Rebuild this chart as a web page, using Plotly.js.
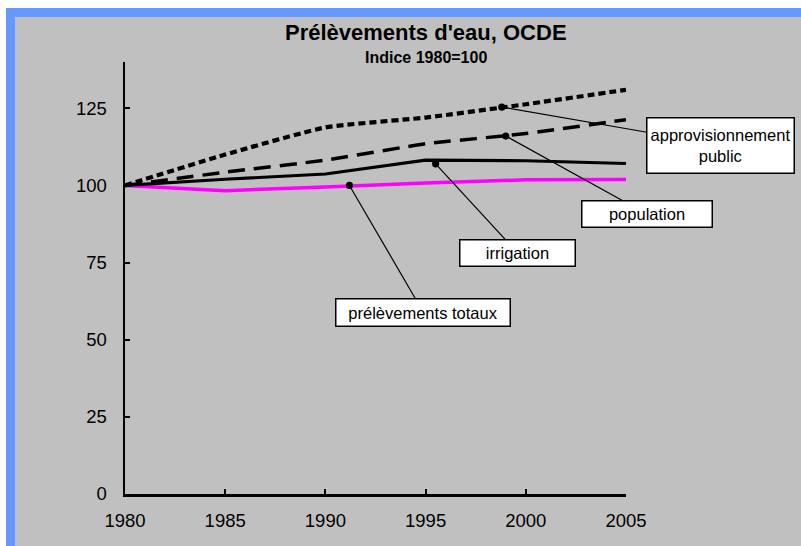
<!DOCTYPE html>
<html>
<head>
<meta charset="utf-8">
<script src="https://cdn.plot.ly/plotly-3.0.1.min.js"></script>
<style>
  html, body { margin: 0; padding: 0; background: #ffffff; width: 801px; height: 546px; overflow: hidden; }
  #frame { position: absolute; left: 6px; top: 8px; width: 795px; height: 538px; background: #6699FF; }
  #chart { position: absolute; left: 15px; top: 17px; width: 786px; height: 529px; }
</style>
</head>
<body>
<div id="frame"></div>
<div id="chart"></div>
<script>
// Data (index 1980 = 100)
const years = [1980, 1985, 1990, 1995, 2000, 2005];
const approvisionnementPublic = [100, 110, 118.8, 122, 126.3, 131];
const population = [100, 104.3, 108.2, 113.5, 116.8, 121.3];
const irrigation = [100, 102, 103.7, 108.2, 108, 107.1];
const prelevementsTotaux = [100, 98.3, 99.5, 100.8, 101.8, 101.9];

const xTicks = [1980, 1985, 1990, 1995, 2000, 2005];
const yTicks = [0, 25, 50, 75, 100, 125];

const titleText = "Prélèvements d'eau, OCDE";
const subtitleText = "Indice 1980=100";

// Callout labels: text and the point (year, value) they point to
const labels = [
  { text: "approvisionnement<br>public", x: 1998.8, y: 125.4 },
  { text: "population", x: 1999.0, y: 116.0 },
  { text: "irrigation", x: 1995.5, y: 107.0 },
  { text: "prélèvements totaux", x: 1991.2, y: 100.0 }
];

const tickFont = { family: "Liberation Sans, Arial, sans-serif", size: 18.5, color: "#000000" };
const calloutFont = { family: "Liberation Sans Narrow, Arial Narrow, Liberation Sans, Arial, sans-serif", size: 16.5, color: "#000000" };

const traces = [
  { x: years, y: prelevementsTotaux, mode: "lines", line: { color: "#FF00FF", width: 3.5 }, hoverinfo: "skip" },
  { x: years, y: irrigation, mode: "lines", line: { color: "#000000", width: 3.2 }, hoverinfo: "skip" },
  { x: years, y: population, mode: "lines", line: { color: "#000000", width: 3.5, dash: "17px,9px", shape: "spline", smoothing: 0.4 }, hoverinfo: "skip" },
  { x: years, y: approvisionnementPublic, mode: "lines", line: { color: "#000000", width: 4.2, dash: "7px,4px", shape: "spline", smoothing: 0.5 }, hoverinfo: "skip" }
];

const offsets = [
  { ax: 219, ay: 38, w: 146, h: 54 },
  { ax: 141, ay: 78, w: 129, h: 25 },
  { ax: 82, ay: 89, w: 114, h: 25 },
  { ax: 74, ay: 127, w: 173, h: 26 }
];

const annotations = labels.map((l, i) => ({
  text: l.text, x: l.x, y: l.y, xref: "x", yref: "y",
  showarrow: true, arrowhead: 6, arrowsize: 1.5, arrowwidth: 1.2, arrowcolor: "#000000",
  ax: offsets[i].ax, ay: offsets[i].ay, standoff: 0,
  bgcolor: "#FFFFFF", bordercolor: "#000000", borderwidth: 1.5, borderpad: 0,
  width: offsets[i].w, height: offsets[i].h,
  font: calloutFont
}));

annotations.push({
  text: "<b>" + titleText + "</b>", xref: "paper", yref: "paper", x: 0.601, y: 1.068,
  xanchor: "center", yanchor: "middle", showarrow: false,
  font: { family: "Liberation Sans, Arial, sans-serif", size: 22, color: "#000000" }
});
annotations.push({
  text: "<b>" + subtitleText + "</b>", xref: "paper", yref: "paper", x: 0.601, y: 1.011,
  xanchor: "center", yanchor: "middle", showarrow: false,
  font: { family: "Liberation Sans, Arial, sans-serif", size: 16, color: "#000000" }
});

const layout = {
  width: 786, height: 529,
  margin: { l: 110, r: 175, t: 45, b: 52 },
  paper_bgcolor: "#C0C0C0",
  plot_bgcolor: "#C0C0C0",
  showlegend: false,
  xaxis: {
    range: [1980, 2005], tickvals: xTicks, ticktext: xTicks.map(String),
    showgrid: false, zeroline: false, showline: true, linecolor: "#000000", linewidth: 2.5,
    ticks: "inside", ticklen: 5, tickwidth: 2, tickcolor: "#000000",
    tickfont: tickFont, ticklabelstandoff: 8
  },
  yaxis: {
    range: [0, 140], tickvals: yTicks, ticktext: yTicks.map(String),
    showgrid: false, zeroline: false, showline: true, linecolor: "#000000", linewidth: 2.5,
    ticks: "inside", ticklen: 5, tickwidth: 2, tickcolor: "#000000",
    tickfont: tickFont, ticklabelstandoff: 12
  },
  annotations: annotations
};

Plotly.newPlot("chart", traces, layout, { staticPlot: true, displayModeBar: false });
</script>
</body>
</html>
